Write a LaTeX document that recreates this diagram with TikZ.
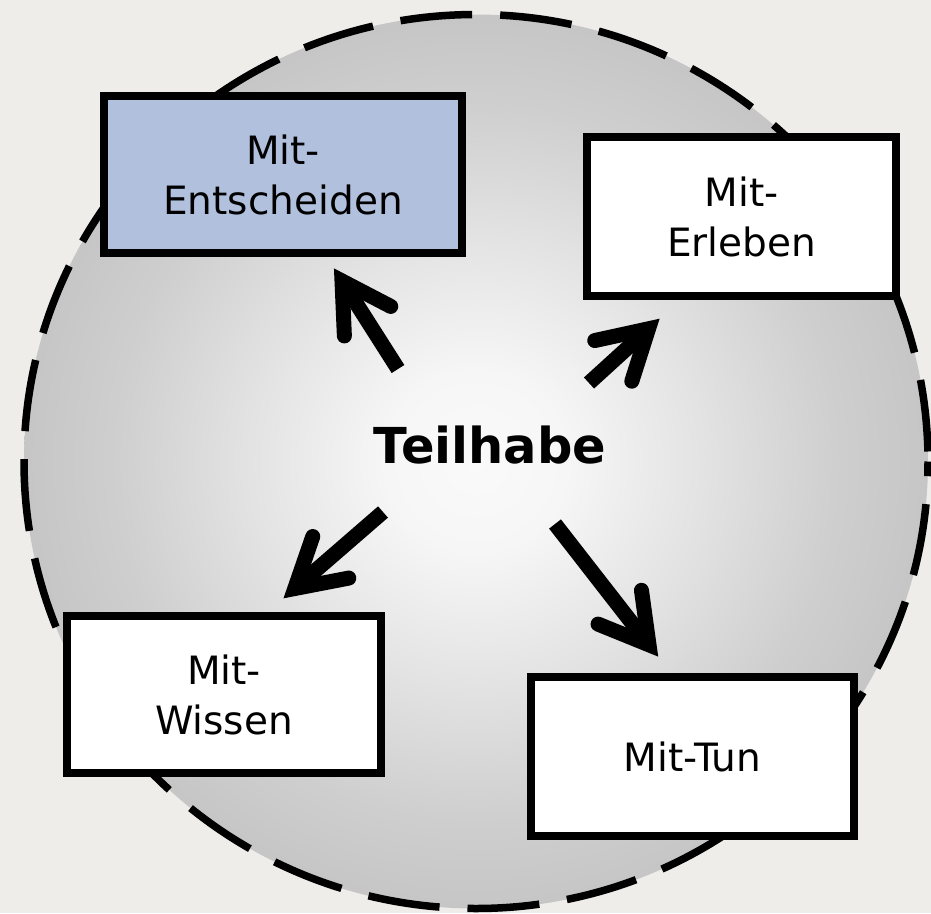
\documentclass[tikz,border=0pt]{standalone}
\usepackage{fontspec}
\setmainfont{DejaVu Sans}
\usetikzlibrary{calc}
\definecolor{bgc}{RGB}{239,237,234}
\definecolor{bluebox}{RGB}{176,192,221}
\pgfdeclareradialshading{discshade}{\pgfpoint{0bp}{0bp}}{%
  rgb(0bp)=(0.98,0.98,0.98);
  rgb(5bp)=(0.965,0.965,0.965);
  rgb(12.5bp)=(0.89,0.89,0.89);
  rgb(20bp)=(0.81,0.81,0.81);
  rgb(25bp)=(0.775,0.775,0.775);
  rgb(50bp)=(0.775,0.775,0.775)}
\begin{document}
\begin{tikzpicture}[x=1pt,y=-1pt,
  box/.style={draw=black, line width=7.5pt, fill=white, align=center, inner sep=0pt,
    font=\fontsize{39}{50}\selectfont},
  shaft/.style={line width=15pt, line cap=butt, shorten >=6pt},
  barb/.style={line width=15pt, line cap=round, line join=miter}]
\fill[bgc] (0,0) rectangle (931,913);
\useasboundingbox (0,0) rectangle (931,913);
\coordinate (cc) at (476,461.5);
\shade[shading=discshade] (cc) ellipse [x radius=452pt, y radius=447pt];
\draw[line width=7.5pt, dash pattern=on 72pt off 28pt, dash phase=90pt] (cc) ellipse [x radius=452pt, y radius=447pt];

\node[box, fill=bluebox, minimum width=358pt, minimum height=157pt] (ent) at (283,174.5) {Mit-\\Entscheiden};
\node[box, minimum width=309pt, minimum height=159pt] (erl) at (741.5,216.5) {Mit-\\Erleben};
\node[box, minimum width=314pt, minimum height=157pt] (wis) at (224,694.5) {Mit-\\Wissen};
\node[box, minimum width=323pt, minimum height=159pt] (tun) at (692.5,756.5) {Mit-Tun};

\node[font=\bfseries\fontsize{49.5}{58}\selectfont, anchor=base] (teil) at (490,463) {Teilhabe};

\coordinate (t1) at (398,369); \coordinate (h1) at (342,281);
\coordinate (t2) at (589,383); \coordinate (h2) at (648.5,328.8);
\coordinate (t3) at (383,512); \coordinate (h3) at (294.8,588.5);
\coordinate (t4) at (555,524); \coordinate (h4) at (649,644.8);

\foreach \i in {1,2,3,4}{
  \draw[shaft] (t\i) -- (h\i);
  \draw[barb] ($(h\i)!55pt!30:(t\i)$) -- (h\i) -- ($(h\i)!55pt!-30:(t\i)$);
}
\end{tikzpicture}
\end{document}
